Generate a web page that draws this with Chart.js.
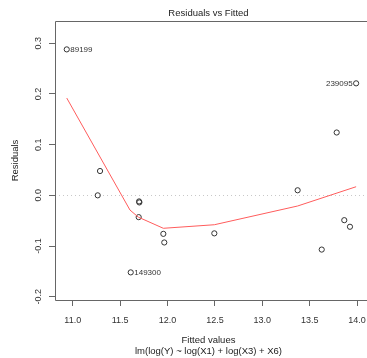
<!DOCTYPE html>
<html>
<head>
<meta charset="utf-8">
<script src="https://cdn.jsdelivr.net/npm/chart.js@4.4.1/dist/chart.umd.min.js"></script>
<style>
  html, body { margin: 0; padding: 0; background: #fff; }
  #c { display: block; }
</style>
</head>
<body>
<canvas id="c" width="367" height="358"></canvas>
<script>
// Daten: angepasste Werte und Residuen
const fittedValues = [10.937, 11.264, 11.288, 11.612, 11.696, 11.700, 11.703, 11.956,
  11.966, 12.494, 13.373, 13.627, 13.785, 13.865, 13.925, 13.990];
const residuals = [0.288, 0.000, 0.048, -0.152, -0.043, -0.012, -0.014, -0.076,
  -0.093, -0.075, 0.010, -0.107, 0.124, -0.049, -0.062, 0.221];
const pointIds = ["89199", "", "", "149300", "", "", "", "",
  "", "", "", "", "", "", "", "239095"];

// Glättungskurve (lowess)
const smoothX = [10.937, 11.604, 11.692, 11.956, 12.494, 13.373, 13.990];
const smoothY = [0.192, -0.029, -0.043, -0.065, -0.058, -0.021, 0.017];

// Achsenbeschriftungen
const xTicks = [11.0, 11.5, 12.0, 12.5, 13.0, 13.5, 14.0];
const yTicks = [-0.2, -0.1, 0.0, 0.1, 0.2, 0.3];

const FONT = "'Liberation Sans', Arial, sans-serif";

/**
 * Rahmen (rechts offen, wie im abgeschnittenen Original) und gepunktete Nulllinie
 */
const boxPlugin = {
  id: "box",
  beforeDatasetsDraw(chart) {
    const { ctx, chartArea } = chart;
    const y0 = chart.scales.y.getPixelForValue(0);
    ctx.save();
    ctx.strokeStyle = "#c8c8c8";
    ctx.lineWidth = 1;
    ctx.setLineDash([1, 3]);
    ctx.beginPath();
    ctx.moveTo(chartArea.left, Math.round(y0) + 0.5);
    ctx.lineTo(chart.width, Math.round(y0) + 0.5);
    ctx.stroke();
    ctx.restore();
  },
  afterDraw(chart) {
    const { ctx, chartArea } = chart;
    const l = chartArea.left + 0.5;
    const t = chartArea.top + 0.5;
    const b = chartArea.bottom + 0.5;
    ctx.save();
    ctx.strokeStyle = "#666";
    ctx.lineWidth = 1;
    ctx.beginPath();
    ctx.moveTo(chart.width, t);
    ctx.lineTo(l, t);
    ctx.lineTo(l, b);
    ctx.lineTo(chart.width, b);
    ctx.stroke();
    ctx.restore();
  }
};

/**
 * Beschriftung auffälliger Punkte (wie plot.lm)
 */
const idPlugin = {
  id: "ids",
  afterDatasetsDraw(chart) {
    const { ctx } = chart;
    const meta = chart.getDatasetMeta(1);
    const mid = (Math.min(...fittedValues) + Math.max(...fittedValues)) / 2;
    ctx.save();
    ctx.font = "8px " + FONT;
    ctx.fillStyle = "#333";
    ctx.textBaseline = "middle";
    meta.data.forEach((pt, i) => {
      if (!pointIds[i]) return;
      if (fittedValues[i] > mid) {
        ctx.textAlign = "right";
        ctx.fillText(pointIds[i], pt.x - 3.5, pt.y);
      } else {
        ctx.textAlign = "left";
        ctx.fillText(pointIds[i], pt.x + 3.5, pt.y);
      }
    });
    ctx.restore();
  }
};

// eslint-disable-next-line no-undef
new Chart(document.getElementById("c"), {
  type: "scatter",
  data: {
    datasets: [
      {
        type: "line",
        data: smoothX.map((x, i) => ({ x: x, y: smoothY[i] })),
        borderColor: "#ff5c5c",
        borderWidth: 1,
        pointRadius: 0,
        tension: 0,
        fill: false,
        clip: false
      },
      {
        data: fittedValues.map((x, i) => ({ x: x, y: residuals[i] })),
        pointStyle: "circle",
        pointRadius: 2.6,
        borderWidth: 1,
        borderColor: "#333",
        backgroundColor: "rgba(0,0,0,0)",
        clip: false
      }
    ]
  },
  options: {
    responsive: false,
    animation: false,
    devicePixelRatio: 1,
    layout: { padding: 0 },
    plugins: {
      legend: { display: false },
      tooltip: { enabled: false },
      title: {
        display: true,
        fullSize: false,
        text: "Residuals vs Fitted",
        color: "#222",
        font: { family: FONT, size: 9.5, weight: "normal", lineHeight: "11px" },
        padding: { top: 7.5, bottom: 2.5 }
      }
    },
    scales: {
      x: {
        type: "linear",
        position: "bottom",
        min: 10.813,
        max: 14.052,
        afterBuildTicks: scale => { scale.ticks = xTicks.map(v => ({ value: v })); },
        afterFit: scale => {
          scale.height = 58;
          scale.paddingLeft = 0;
          scale.paddingRight = 0;
        },
        grid: { drawOnChartArea: false, drawTicks: true, tickLength: 6, tickColor: "#666" },
        border: { display: false },
        ticks: {
          color: "#333",
          font: { family: FONT, size: 9 },
          padding: 9,
          maxRotation: 0,
          autoSkip: false,
          callback: v => v.toFixed(1)
        },
        title: {
          display: true,
          text: ["Fitted values", "lm(log(Y) ~ log(X1) + log(X3) + X6)"],
          color: "#222",
          font: { family: FONT, size: 9.5, lineHeight: "11px" },
          padding: { top: 0, bottom: 1.5 }
        }
      },
      y: {
        type: "linear",
        position: "left",
        min: -0.2065,
        max: 0.344,
        afterBuildTicks: scale => { scale.ticks = yTicks.map(v => ({ value: v })); },
        afterFit: scale => {
          scale.width = 55;
          scale.paddingTop = 0;
          scale.paddingBottom = 0;
        },
        grid: { drawOnChartArea: false, drawTicks: true, tickLength: 6, tickColor: "#666" },
        border: { display: false },
        ticks: {
          color: "#333",
          font: { family: FONT, size: 9 },
          padding: 2.5,
          minRotation: 90,
          maxRotation: 90,
          crossAlign: "center",
          autoSkip: false,
          callback: v => v.toFixed(1)
        },
        title: {
          display: true,
          text: "Residuals",
          color: "#222",
          font: { family: FONT, size: 9.5, lineHeight: "11px" },
          padding: { top: 9.5, bottom: 0 }
        }
      }
    }
  },
  plugins: [boxPlugin, idPlugin]
});
</script>
</body>
</html>
